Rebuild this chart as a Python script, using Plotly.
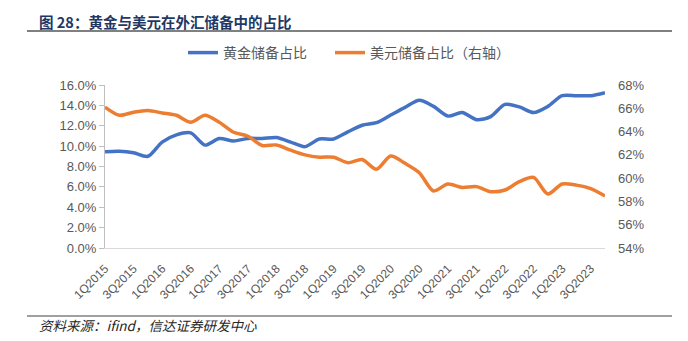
import plotly.graph_objects as go

quarters = [f"{q}Q{y}" for y in range(2015, 2024) for q in range(1, 5)]
gold_share = [9.45, 9.5, 9.35, 9.0, 10.4, 11.1, 11.3, 10.1, 10.75, 10.5, 10.75, 10.75,
              10.85, 10.4, 9.95, 10.7, 10.7, 11.4, 12.05, 12.3, 13.05, 13.8, 14.5, 13.9,
              12.95, 13.3, 12.6, 12.9, 14.1, 13.85, 13.3, 13.9, 14.95, 14.95, 14.95, 15.25]
usd_share = [66.1, 65.4, 65.66, 65.8, 65.6, 65.4, 64.8, 65.4, 64.8, 63.94, 63.6, 62.8,
             62.85, 62.4, 62.0, 61.8, 61.8, 61.33, 61.6, 60.76, 61.9, 61.27, 60.47, 58.9,
             59.5, 59.2, 59.27, 58.84, 58.98, 59.7, 60.07, 58.64, 59.5, 59.4, 59.1, 58.47]
tick_labels = quarters[::2]
left_ticks = [0, 2, 4, 6, 8, 10, 12, 14, 16]
right_ticks = [54, 56, 58, 60, 62, 64, 66, 68]

title_text = "图 28：黄金与美元在外汇储备中的占比"
source_text = "资料来源：ifind，信达证券研发中心"
name_gold = "黄金储备占比"
name_usd = "美元储备占比（右轴）"

W, H = 688, 341
L, R, T, B = 105, 83, 85, 93
pw, ph = W - L - R, H - T - B

def px_x(x):
    return (x - L) / pw

def px_y(y):
    return 1 - (y - T) / ph

cjk = "Noto Sans CJK SC"
num_font = "Liberation Sans, Arial, sans-serif"
gray = "#595959"

fig = go.Figure()
fig.add_trace(go.Scatter(x=quarters, y=gold_share, name=name_gold, mode="lines",
                         line=dict(color="#4472C4", width=3.5, shape="spline", smoothing=0.8),
                         legend="legend"))
fig.add_trace(go.Scatter(x=quarters, y=usd_share, name=name_usd, mode="lines",
                         line=dict(color="#ED7D31", width=3.5, shape="spline", smoothing=0.8),
                         yaxis="y2", legend="legend2"))

fig.update_layout(
    width=W, height=H,
    margin=dict(l=L, r=R, t=T, b=B),
    paper_bgcolor="white", plot_bgcolor="white",
    font=dict(family=num_font, color=gray),
    xaxis=dict(type="category", tickmode="array", tickvals=tick_labels, ticktext=tick_labels,
               tickangle=-45, tickfont=dict(size=12, color=gray, family=num_font),
               showgrid=False, showline=True, linecolor="#D9D9D9", linewidth=1,
               ticks="", zeroline=False, ticklabelstandoff=8),
    yaxis=dict(range=[0, 16], tickmode="array", tickvals=left_ticks,
               ticktext=[f"{v:.1f}%" for v in left_ticks],
               tickfont=dict(size=13, color=gray, family=num_font),
               showgrid=False, showline=True, linecolor="#BFBFBF", linewidth=1,
               ticks="outside", ticklen=5, tickcolor="#BFBFBF", zeroline=False),
    yaxis2=dict(range=[54, 68], overlaying="y", side="right", tickmode="array",
                tickvals=right_ticks, ticktext=[f"{v}%" for v in right_ticks],
                tickfont=dict(size=13, color=gray, family=num_font),
                showgrid=False, showline=False, ticks="", zeroline=False,
                ticklabelstandoff=12),
    legend=dict(x=px_x(183), y=px_y(53), xanchor="left", yanchor="middle",
                font=dict(size=14, color=gray, family=cjk), bgcolor="rgba(0,0,0,0)"),
    legend2=dict(x=px_x(330), y=px_y(53), xanchor="left", yanchor="middle",
                 font=dict(size=14, color=gray, family=cjk), bgcolor="rgba(0,0,0,0)"),
    showlegend=True,
)

fig.add_annotation(text=f"<b>{title_text}</b>", xref="paper", yref="paper",
                   x=px_x(37), y=px_y(21), xanchor="left", yanchor="middle",
                   showarrow=False, font=dict(size=14.5, color="#1F3864", family=cjk))
fig.add_annotation(text=f"<i>{source_text}</i>", xref="paper", yref="paper",
                   x=px_x(37), y=px_y(325), xanchor="left", yanchor="middle",
                   showarrow=False, font=dict(size=13.5, color="#262626", family=cjk))

fig.add_shape(type="line", xref="paper", yref="paper", x0=px_x(27), x1=px_x(672),
              y0=px_y(31), y1=px_y(31), line=dict(color="#808080", width=2))
fig.add_shape(type="line", xref="paper", yref="paper", x0=px_x(27), x1=px_x(672),
              y0=px_y(316), y1=px_y(316), line=dict(color="#808080", width=1.5))

fig.write_html("out.html")
